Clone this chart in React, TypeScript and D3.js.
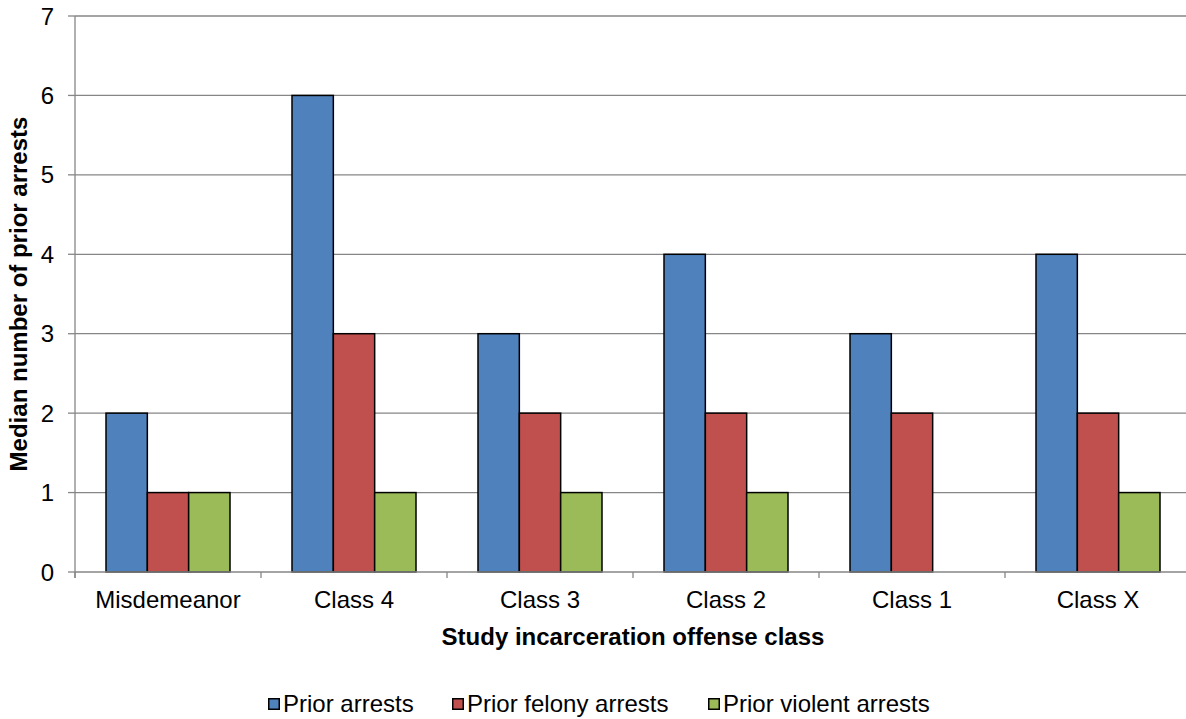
import React from 'react';
import * as d3 from 'd3';

const categories = ['Misdemeanor', 'Class 4', 'Class 3', 'Class 2', 'Class 1', 'Class X'];
const seriesNames = ['Prior arrests', 'Prior felony arrests', 'Prior violent arrests'];
const priorArrests = [2, 6, 3, 4, 3, 4];
const priorFelony = [1, 3, 2, 2, 2, 2];
const priorViolent = [1, 1, 1, 1, 0, 1];
const seriesColors = ['#4F81BD', '#C0504D', '#9BBB59'];
const yTicks = [0, 1, 2, 3, 4, 5, 6, 7];

const width = 1186;
const height = 719;
const marginLeft = 75;
const plotRight = 1191;
const marginTop = 16;
const plotBottom = 572;
const font = '"Liberation Sans", Arial, sans-serif';
const gridColor = '#868686';

export default function App() {
  const values = [priorArrests, priorFelony, priorViolent];

  const x0 = d3.scaleBand<string>()
    .domain(categories)
    .range([marginLeft, plotRight])
    .padding(0);
  const bw = x0.bandwidth();
  const gap = (bw * 1.5) / 4.5;
  const x1 = d3.scaleBand<string>()
    .domain(seriesNames)
    .range([gap / 2, bw - gap / 2])
    .padding(0);

  const y = d3.scaleLinear().domain([0, 7]).range([plotBottom, marginTop]);

  // boundaries between categories, for the little tick marks
  const boundaries = categories.map(c => x0(c) as number).concat([plotRight]);

  const legendX = [268, 452, 708];

  return (
    <svg
      width={width}
      height={height}
      style={{ position: 'absolute', left: 0, top: 0, background: '#fff' }}
      fontFamily={font}
    >
      {/* gridlines */}
      {yTicks.filter(t => t > 0).map(t => (
        <line key={'g' + t} x1={marginLeft} x2={plotRight} y1={y(t)} y2={y(t)}
          stroke={gridColor} strokeWidth={1.3} />
      ))}

      {/* bars */}
      {categories.map((c, ci) => (
        <g key={c} transform={`translate(${x0(c)},0)`}>
          {seriesNames.map((s, si) => {
            const v = values[si][ci];
            if (!v) return null;
            return (
              <rect key={s} x={x1(s)} y={y(v)} width={x1.bandwidth()} height={y(0) - y(v)}
                fill={seriesColors[si]} stroke="#000" strokeWidth={1.5} />
            );
          })}
        </g>
      ))}

      {/* x axis */}
      <line x1={marginLeft} x2={plotRight} y1={plotBottom} y2={plotBottom} stroke={gridColor} strokeWidth={1.3} />
      {boundaries.map((b, i) => (
        <line key={'xt' + i} x1={b} x2={b} y1={plotBottom} y2={plotBottom + 6} stroke={gridColor} strokeWidth={1.3} />
      ))}
      {categories.map(c => (
        <text key={'xl' + c} x={(x0(c) as number) + bw / 2} y={608} textAnchor="middle" fontSize={24} fill="#000">
          {c}
        </text>
      ))}

      {/* y axis */}
      <line x1={marginLeft} x2={marginLeft} y1={marginTop} y2={plotBottom + 6} stroke={gridColor} strokeWidth={1.3} />
      {yTicks.map(t => (
        <g key={'yt' + t}>
          <line x1={marginLeft - 7} x2={marginLeft} y1={y(t)} y2={y(t)} stroke={gridColor} strokeWidth={1.3} />
          <text x={54} y={y(t)} dy="0.36em" textAnchor="end" fontSize={24} fill="#000">{t}</text>
        </g>
      ))}

      {/* axis titles */}
      <text x={(marginLeft + plotRight) / 2} y={645} textAnchor="middle" fontSize={24} fontWeight="bold" fill="#000">
        Study incarceration offense class
      </text>
      <text transform={`translate(27,${(marginTop + plotBottom) / 2}) rotate(-90)`} textAnchor="middle"
        fontSize={24} fontWeight="bold" fill="#000">
        Median number of prior arrests
      </text>

      {/* legend */}
      {seriesNames.map((s, i) => (
        <g key={'lg' + s} transform={`translate(${legendX[i]},698)`}>
          <rect x={0.75} y={0.75} width={10.5} height={10.5} fill={seriesColors[i]} stroke="#000" strokeWidth={1.5} />
          <text x={15} y={14} fontSize={24} fill="#000">{s}</text>
        </g>
      ))}
    </svg>
  );
}
